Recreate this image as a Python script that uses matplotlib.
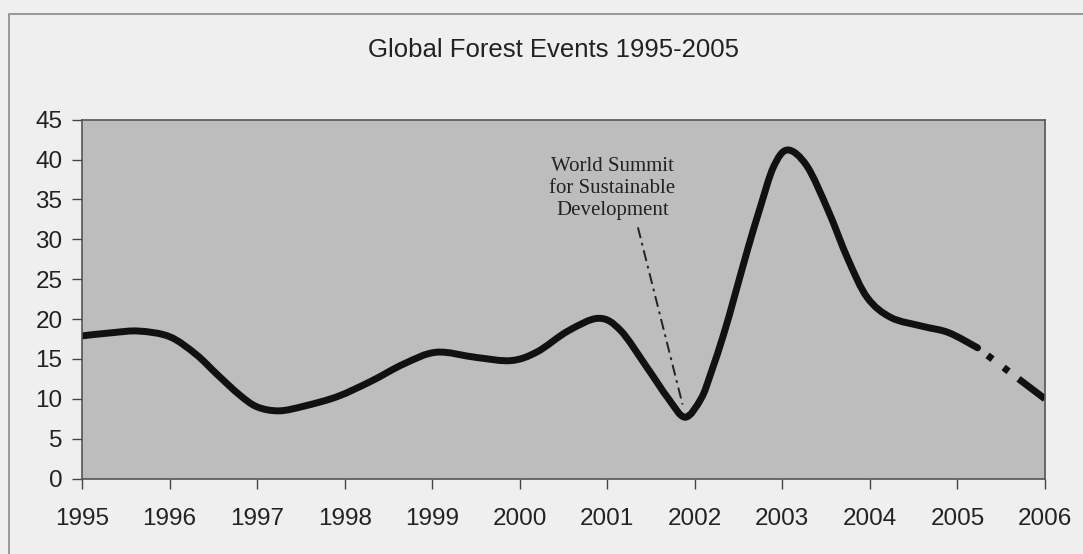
import numpy as np
import matplotlib.pyplot as plt
from matplotlib.patches import Rectangle, PathPatch
from matplotlib.path import Path

# values (year, events)
years = [1995.0, 1995.35, 1995.65, 1996.0, 1996.3, 1996.55, 1996.8, 1997.0,
         1997.25, 1997.54, 1997.92, 1998.3, 1998.68, 1999.05, 1999.5, 1999.9, 2000.2,
         2000.55, 2000.9, 2001.15, 2001.45, 2001.7, 2001.89, 2002.07, 2002.18,
         2002.33, 2002.45, 2002.6, 2002.75, 2002.9, 2003.06, 2003.28, 2003.52,
         2003.75, 2003.97, 2004.24, 2004.6, 2004.9, 2005.23]
events = [17.9, 18.3, 18.5, 17.8, 15.6, 13.0, 10.5, 9.0,
          8.5, 9.1, 10.3, 12.2, 14.4, 15.85, 15.2, 14.8, 15.9,
          18.5, 20.1, 18.6, 14.0, 10.0, 7.7, 10.0, 13.1,
          18.1, 22.7, 28.6, 34.1, 39.1, 41.2, 39.2, 33.7,
          27.5, 22.7, 20.2, 19.1, 18.3, 16.4]

# projected part (dash-dot)
proj_years = [2005.23, 2006.0]
proj_events = [16.4, 10.0]

# annotation pointer
note_text = "World Summit\nfor Sustainable\nDevelopment"
note_xy = (2001.06, 36.4)
note_line_x = [2001.35, 2001.86]
note_line_y = [31.5, 9.3]


def smooth_path(x, y):
    # Catmull-Rom through the points, drawn as cubic Bezier segments (like a smoothed Excel line)
    pts = np.column_stack([x, y])
    verts = [pts[0]]
    codes = [Path.MOVETO]
    n = len(pts)
    for i in range(n - 1):
        p0 = pts[i - 1] if i > 0 else pts[i]
        p1 = pts[i]
        p2 = pts[i + 1]
        p3 = pts[i + 2] if i + 2 < n else pts[i + 1]
        c1 = p1 + (p2 - p0) / 6
        c2 = p2 - (p3 - p1) / 6
        verts += [c1, c2, p2]
        codes += [Path.CURVE4] * 3
    return Path(verts, codes)


fig = plt.figure(figsize=(10.83, 5.54), dpi=100, facecolor='#efefef')
ax = fig.add_axes([0.0757, 0.136, 0.8892, 0.6480])
ax.set_facecolor('#bdbdbd')

# outer frame of the chart
fig.patches.append(Rectangle((8.5 / 1083, -0.1), 1.2, 1 - 14 / 554 + 0.1,
                             transform=fig.transFigure, fill=False,
                             edgecolor='#8a8a8a', linewidth=1.2))

ax.add_patch(PathPatch(smooth_path(years, events), fill=False, edgecolor='#111111',
                       linewidth=5, capstyle='round', joinstyle='round'))

plt.rcParams['lines.scale_dashes'] = False
ax.plot(proj_years, proj_events, color='#111111', linewidth=5,
        dashes=(0.01, 9, 4.5, 10, 4.5, 9, 40, 10), dash_capstyle='butt')
ax.plot(note_line_x, note_line_y, color='#222222', linewidth=1.4,
        dashes=(8, 3.5, 2, 3.5))
ax.text(note_xy[0], note_xy[1], note_text, ha='center', va='center', fontsize=15,
        family='Liberation Serif', color='#222222', linespacing=1.2)

ax.set_xlim(1995, 2006)
ax.set_ylim(0, 45)
ax.set_xticks(range(1995, 2007))
ax.set_yticks(range(0, 46, 5))
ax.tick_params(axis='both', direction='out', length=7, width=1, color='#444444',
               labelsize=17.5, labelcolor='#222222')
ax.tick_params(axis='y', pad=7)
ax.tick_params(axis='x', pad=14)
for lbl in ax.get_xticklabels() + ax.get_yticklabels():
    lbl.set_family('Liberation Sans')
for s in ax.spines.values():
    s.set_color('#555555')
    s.set_linewidth(1.2)

fig.text(553 / 1083, 1 - 50 / 554, 'Global Forest Events 1995-2005', ha='center',
         va='center', fontsize=18.5, family='Liberation Sans', color='#222222')

fig.savefig('out.png', dpi=100, facecolor=fig.get_facecolor())
